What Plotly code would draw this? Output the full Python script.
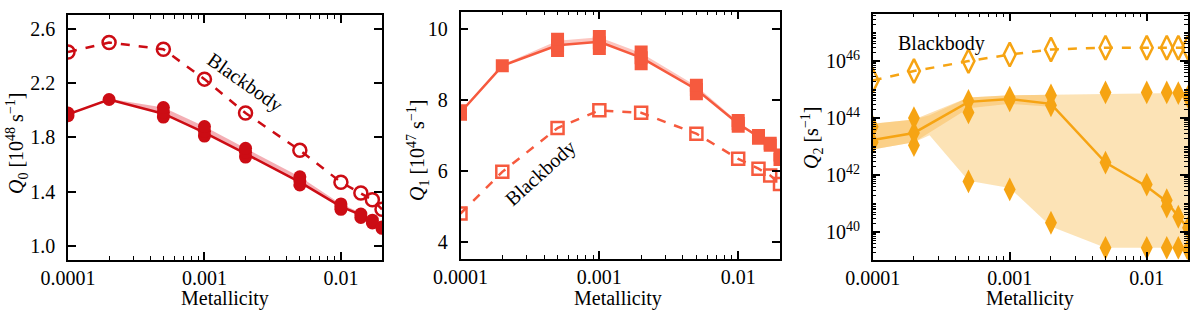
import numpy as np
import plotly.graph_objects as go

# ---------------- data ----------------
Z = [0.0001, 0.0002, 0.0005, 0.001, 0.002, 0.005, 0.01, 0.014, 0.017, 0.02]

# Panel 1: Q0 [1e48 s^-1]
Q0_line = [1.97, 2.08, 1.975, 1.835, 1.68, 1.47, 1.29, 1.23, 1.18, 1.13]
Q0_band_hi = [1.975, 2.085, 2.02, 1.88, 1.72, 1.51, 1.31, 1.245, 1.19, 1.14]
Q0_models = [[1.96, 1.98], [2.08], [1.95, 1.985, 2.02], [1.81, 1.845, 1.88],
             [1.655, 1.69, 1.72], [1.45, 1.48, 1.51], [1.27, 1.29, 1.31],
             [1.21, 1.235], [1.17, 1.19], [1.13, 1.14]]
Q0_bb = [2.43, 2.50, 2.45, 2.23, 1.98, 1.705, 1.47, 1.39, 1.34, 1.27]

# Panel 2: Q1 [1e47 s^-1]
Q1_line = [7.65, 8.97, 9.55, 9.65, 9.2, 8.3, 7.33, 6.97, 6.75, 6.4]
Q1_band_hi = [7.7, 9.0, 9.68, 9.78, 9.33, 8.4, 7.38, 7.0, 6.78, 6.42]
Q1_models = [[7.6, 7.7], [8.97], [9.4, 9.55, 9.72], [9.46, 9.62, 9.8],
             [9.03, 9.2, 9.36], [8.18, 8.3, 8.42], [7.26, 7.34, 7.42],
             [6.92, 7.0], [6.72, 6.78], [6.32, 6.45]]
Q1_bb = [4.79, 5.97, 7.21, 7.71, 7.64, 7.05, 6.34, 6.06, 5.87, 5.63]

# Panel 3: log10 Q2 [s^-1]
Q2_line_log = [43.23, 43.48, 44.57, 44.67, 44.5, 42.44, 41.6, 41.07, 40.54, 40.15]
Q2_bb_log = [45.32, 45.65, 46.0, 46.23, 46.41, 46.47, 46.47, 46.47, 46.47, 46.47]
Q2_models_log = [[43.15, 43.7], [43.05, 43.48, 44.0], [41.78, 44.2, 44.6],
                 [41.5, 44.62, 44.72], [40.33, 44.45, 44.8], [39.45, 42.44, 44.9],
                 [39.45, 41.67, 44.9], [39.45, 40.9, 41.12, 44.9],
                 [39.45, 40.54, 44.88], [39.38, 40.15, 44.75]]
Q2_wide_Z = [0.0001, 0.0002, 0.00026, 0.0005, 0.001, 0.002, 0.005, 0.01, 0.014, 0.017, 0.02]
Q2_wide_lo_log = [42.9, 43.15, 43.4, 41.8, 41.55, 40.2, 39.45, 39.45, 39.45, 39.45, 39.45]
Q2_wide_hi_log = [43.8, 43.95, 44.1, 44.72, 44.8, 44.82, 44.87, 44.88, 44.88, 44.88, 44.88]
Q2_narrow_Z = [0.0001, 0.0002, 0.0005, 0.001, 0.002]
Q2_narrow_lo_log = [42.9, 43.15, 44.35, 44.5, 44.4]
Q2_narrow_hi_log = [43.8, 43.95, 44.72, 44.8, 44.82]

x_ticks = [0.0001, 0.001, 0.01]
x_ticktext = ["0.0001", "0.001", "0.01"]
x_minor = [m * 10.0 ** e for e in (-4, -3, -2) for m in range(2, 10)]
y1_ticks = [1.0, 1.4, 1.8, 2.2, 2.6]
y2_ticks = [4, 6, 8, 10]
y3_ticks_log = [40, 42, 44, 46]
y3_minor = [m * 10.0 ** e for e in range(39, 48) for m in range(1, 10)]

C1 = "#cc0c14"
C2 = "#f65a3e"
C3 = "#f6a413"
FONT = "Liberation Serif"
W, H = 1200, 319

fig = go.Figure()


def p10(vals):
    return [10.0 ** float(v) for v in vals]


def flat(models):
    xs, ys = [], []
    for z, vals in zip(Z, models):
        for v in vals:
            xs.append(z)
            ys.append(v)
    return xs, ys


def band(xa, ya, x, lo, hi, color):
    fig.add_trace(go.Scatter(x=list(x) + list(x)[::-1], y=list(hi) + list(lo)[::-1],
                             fill="toself", fillcolor=color, line=dict(width=0),
                             mode="lines", hoverinfo="skip", showlegend=False,
                             xaxis=xa, yaxis=ya))


# ----- panel 1 -----
band("x", "y", Z, Q0_line, Q0_band_hi, "rgba(235,110,120,0.55)")
fig.add_trace(go.Scatter(x=Z, y=Q0_bb, mode="lines+markers", xaxis="x", yaxis="y",
                         line=dict(color=C1, width=2.5, dash="dash"),
                         marker=dict(symbol="circle-open", size=13, color=C1, line=dict(width=2.5)),
                         showlegend=False))
fig.add_trace(go.Scatter(x=Z, y=Q0_line, mode="lines", xaxis="x", yaxis="y",
                         line=dict(color=C1, width=2.5), showlegend=False))
mx, my = flat(Q0_models)
fig.add_trace(go.Scatter(x=mx, y=my, mode="markers", xaxis="x", yaxis="y",
                         marker=dict(symbol="circle", size=13, color=C1), showlegend=False))

# ----- panel 2 -----
band("x2", "y2", Z, Q1_line, Q1_band_hi, "rgba(250,160,150,0.6)")
fig.add_trace(go.Scatter(x=Z, y=Q1_bb, mode="lines+markers", xaxis="x2", yaxis="y2",
                         line=dict(color=C2, width=2.5, dash="dash"),
                         marker=dict(symbol="square-open", size=12, color=C2, line=dict(width=2.5)),
                         showlegend=False))
fig.add_trace(go.Scatter(x=Z, y=Q1_line, mode="lines", xaxis="x2", yaxis="y2",
                         line=dict(color=C2, width=2.5), showlegend=False))
mx, my = flat(Q1_models)
fig.add_trace(go.Scatter(x=mx, y=my, mode="markers", xaxis="x2", yaxis="y2",
                         marker=dict(symbol="square", size=13, color=C2), showlegend=False))

# ----- panel 3 -----
band("x3", "y3", Q2_wide_Z, p10(Q2_wide_lo_log), p10(Q2_wide_hi_log), "rgba(250,200,110,0.5)")
band("x3", "y3", Q2_narrow_Z, p10(Q2_narrow_lo_log), p10(Q2_narrow_hi_log), "rgba(250,185,80,0.45)")
fig.add_trace(go.Scatter(x=Z, y=p10(Q2_bb_log), mode="lines+markers",
                         xaxis="x3", yaxis="y3",
                         line=dict(color=C3, width=2.5, dash="dash"),
                         marker=dict(symbol="diamond-tall-open", size=17, color=C3, line=dict(width=2.5)),
                         showlegend=False))
fig.add_trace(go.Scatter(x=Z, y=p10(Q2_line_log), mode="lines", xaxis="x3", yaxis="y3",
                         line=dict(color=C3, width=2.5), showlegend=False))
mx, my = flat(Q2_models_log)
fig.add_trace(go.Scatter(x=mx, y=p10(my), mode="markers", xaxis="x3", yaxis="y3",
                         marker=dict(symbol="diamond-tall", size=17, color=C3), showlegend=False))


# ----- axes -----
def px_x(p):
    return p / W


def px_y(p):
    return 1 - p / H


common = dict(showline=True, linecolor="black", linewidth=1.5, mirror="ticks",
              ticks="inside", ticklen=8, tickwidth=1.5, tickcolor="black",
              showgrid=False, zeroline=False, automargin=False,
              tickfont=dict(family=FONT, size=20, color="black"))
xcommon = dict(common, type="log", range=[-4, float(np.log10(0.02))], tickvals=x_ticks,
               ticktext=x_ticktext,
               minor=dict(ticks="inside", ticklen=4, tickwidth=1.2, tickcolor="black",
                          showgrid=False, tickmode="array", tickvals=x_minor))

fig.update_layout(
    template="none",
    width=W, height=H, margin=dict(l=0, r=0, t=0, b=0, autoexpand=False),
    paper_bgcolor="white", plot_bgcolor="white",
    xaxis=dict(xcommon, domain=[px_x(68), px_x(382)], anchor="y"),
    yaxis=dict(common, domain=[px_y(259.5), px_y(15)], anchor="x", range=[0.9, 2.703],
               tickvals=y1_ticks, ticktext=["1.0", "1.4", "1.8", "2.2", "2.6"], ticklabelstandoff=7),
    xaxis2=dict(xcommon, domain=[px_x(460.5), px_x(780)], anchor="y2"),
    yaxis2=dict(common, domain=[px_y(258.5), px_y(11.7)], anchor="x2", range=[3.52, 10.5],
                tickvals=y2_ticks, ticklabelstandoff=7),
    xaxis3=dict(xcommon, domain=[px_x(872.7), px_x(1188)], anchor="y3"),
    yaxis3=dict(common, domain=[px_y(259.5), px_y(13.5)], anchor="x3", type="log",
                range=[39.04, 47.67], tickvals=p10(y3_ticks_log),
                ticktext=["10<sup>%d</sup>" % v for v in y3_ticks_log], ticklabelstandoff=7,
                minor=dict(ticks="inside", ticklen=4, tickwidth=1.2, tickcolor="black",
                           showgrid=False, tickmode="array", tickvals=y3_minor)),
)

ann_font = dict(family=FONT, size=20, color="black")
annotations = []
for xc in [225, 618, 1030]:
    annotations.append(dict(text="Metallicity", x=px_x(xc), y=px_y(298), xref="paper", yref="paper",
                            showarrow=False, font=ann_font, xanchor="center", yanchor="middle"))
ytitles = [("<i>Q</i><sub>0</sub> [10<sup>48</sup> s<sup>−1</sup>]", 17, 143),
           ("<i>Q</i><sub>1</sub> [10<sup>47</sup> s<sup>−1</sup>]", 418, 150),
           ("<i>Q</i><sub>2</sub> [s<sup>−1</sup>]", 812, 138)]
for t, xc, yc in ytitles:
    annotations.append(dict(text=t, x=px_x(xc), y=px_y(yc), xref="paper", yref="paper",
                            showarrow=False, font=ann_font, textangle=-90,
                            xanchor="center", yanchor="middle"))
bb_labels = [(245, 82, 35), (540, 173, -42), (941, 43, 0)]
for xc, yc, ang in bb_labels:
    annotations.append(dict(text="Blackbody", x=px_x(xc), y=px_y(yc), xref="paper", yref="paper",
                            showarrow=False, font=ann_font, textangle=ang,
                            xanchor="center", yanchor="middle"))
fig.update_layout(annotations=annotations)

fig.write_html("out.html", config={"displayModeBar": False},
               post_script="document.body.style.margin='0';document.body.style.overflow='hidden';")
